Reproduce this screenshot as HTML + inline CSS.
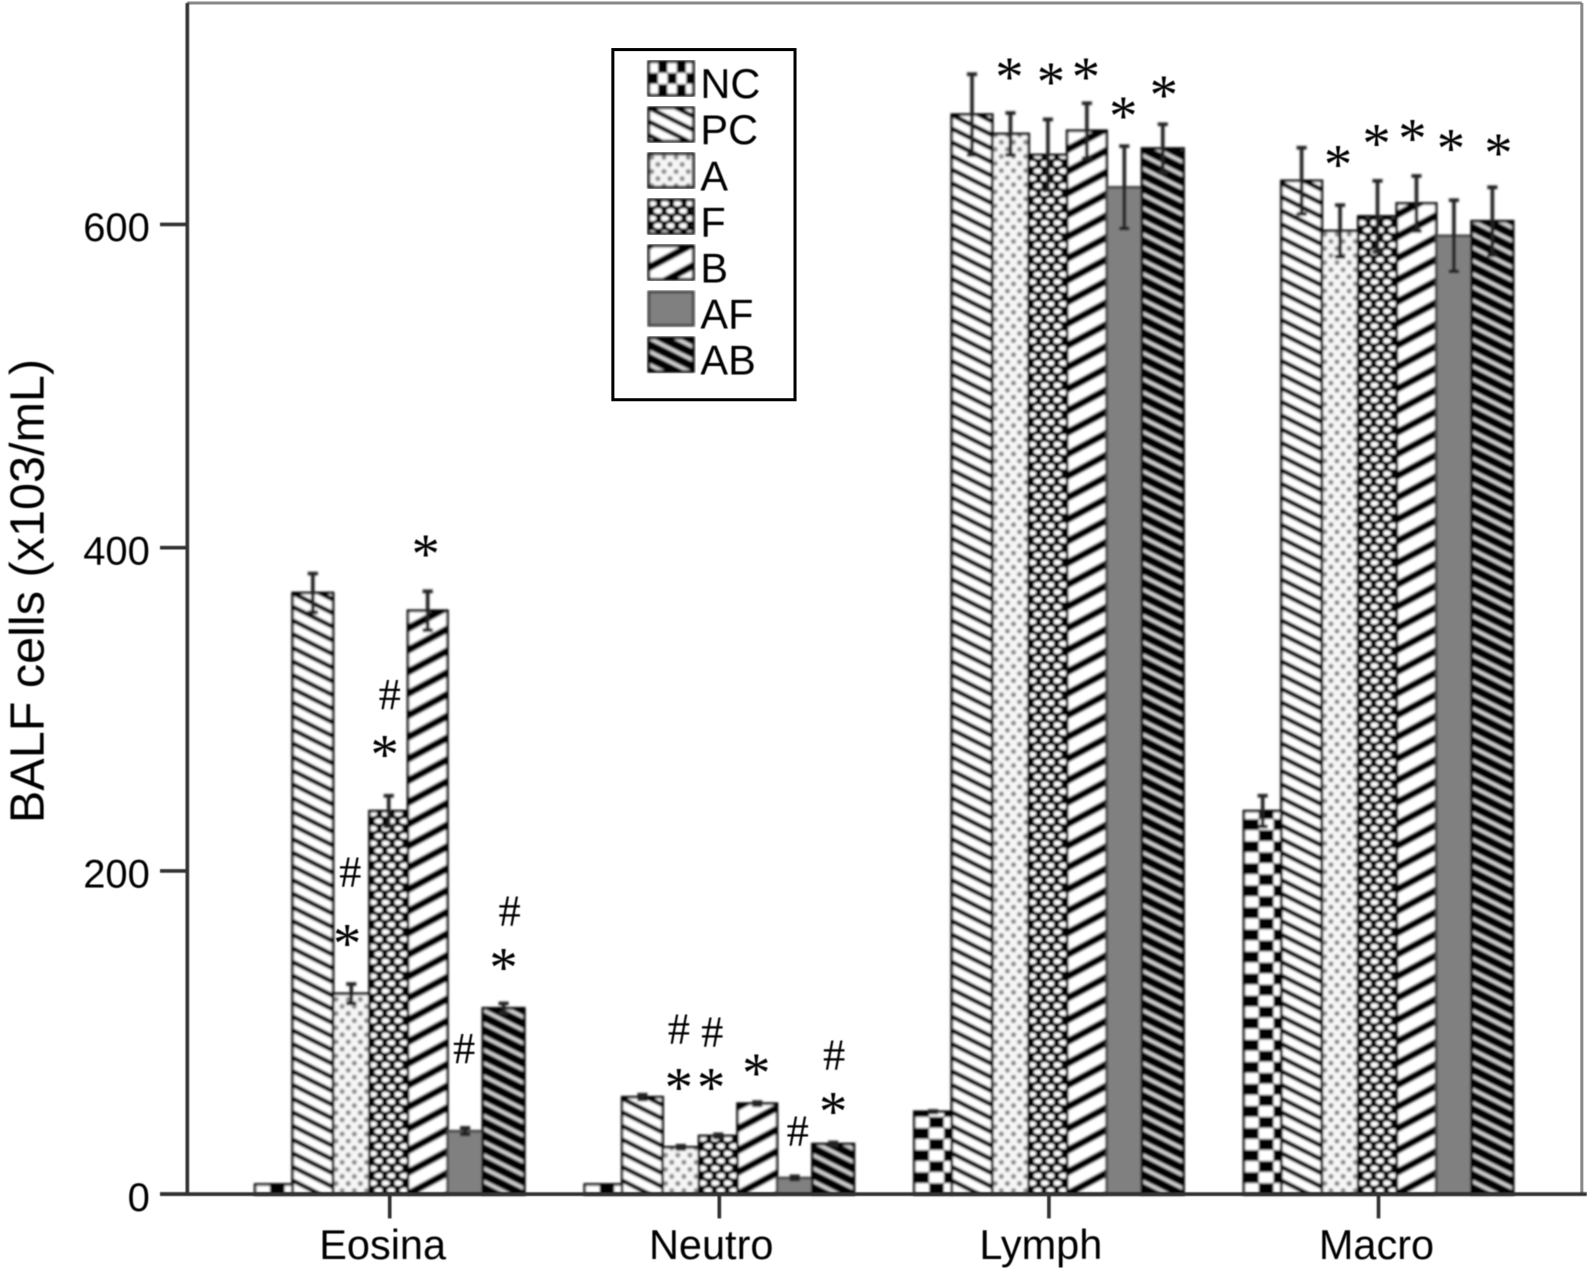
<!DOCTYPE html>
<html>
<head>
<meta charset="utf-8">
<title>BALF cells chart</title>
<style>
html,body{margin:0;padding:0;background:#fff;}
svg{display:block;font-family:"Liberation Sans",sans-serif;}
</style>
</head>
<body>
<svg id="chart" xmlns="http://www.w3.org/2000/svg" width="1587" height="1268" viewBox="0 0 1568 1253">
<defs>
<filter id="soft" x="-5%" y="-5%" width="110%" height="110%"><feGaussianBlur stdDeviation="1"/></filter>
<filter id="softText" x="-5%" y="-5%" width="110%" height="110%"><feGaussianBlur stdDeviation="0.45"/></filter>
<pattern id="p-NC" patternUnits="userSpaceOnUse" width="29.2" height="21.8"><rect width="29.2" height="21.8" fill="#fff"/><rect width="14.6" height="10.9" fill="#000"/><rect x="14.6" y="10.9" width="14.6" height="10.9" fill="#000"/></pattern>
<pattern id="p-NC-legend" patternUnits="userSpaceOnUse" width="18.4" height="22"><rect width="18.4" height="22" fill="#fff"/><rect x="9.2" width="9.2" height="11" fill="#000"/><rect y="11" width="9.2" height="11" fill="#000"/></pattern>
<pattern id="p-PC" patternUnits="userSpaceOnUse" width="27" height="13.5"><rect width="27" height="13.5" fill="#fff"/><path d="M-27 -13.5L54 27M-27 0L27 27M0 -13.5L54 13.5" stroke="#000" stroke-width="4.4" fill="none"/></pattern>
<pattern id="p-A" patternUnits="userSpaceOnUse" width="12" height="14"><rect width="12" height="14" fill="#f6f6f6"/><circle cx="3" cy="3.5" r="2.5" fill="#8c8c8c"/><circle cx="9" cy="10.5" r="2.5" fill="#8c8c8c"/></pattern>
<pattern id="p-F" patternUnits="userSpaceOnUse" width="12.5" height="14.6"><rect width="12.5" height="14.6" fill="#000"/><ellipse cx="3.1" cy="3.65" rx="4.4" ry="2.7" fill="#fff"/><ellipse cx="9.35" cy="10.95" rx="4.4" ry="2.7" fill="#fff"/></pattern>
<pattern id="p-B" patternUnits="userSpaceOnUse" width="40" height="21.5"><rect width="40" height="21.5" fill="#fff"/><path d="M-40 21.5L40 -21.5M-40 43L80 -21.5M0 43L80 0" stroke="#000" stroke-width="7" fill="none"/></pattern>
<pattern id="p-AF" patternUnits="userSpaceOnUse" width="10" height="10"><rect width="10" height="10" fill="#808080"/></pattern>
<pattern id="p-AB" patternUnits="userSpaceOnUse" width="26" height="13"><rect width="26" height="13" fill="#000"/><path d="M-26 -13L52 26M-26 0L26 26M0 -13L52 13" stroke="#d0d0d0" stroke-width="3.6" fill="none"/></pattern>
</defs>
<g id="frame"></g>
<g id="bars" filter="url(#soft)"></g>
<g id="axes" filter="url(#softText)"></g>
<g id="notes" filter="url(#softText)"></g>
<g id="legend"></g>
<text transform="translate(43,584) rotate(-90)" text-anchor="middle" font-size="48" fill="#000" filter="url(#softText)">BALF cells (x103/mL)</text>
</svg>
<script>
// ---- chart data ----
const categories = ['Eosina', 'Neutro', 'Lymph', 'Macro'];
const seriesNames = ['NC', 'PC', 'A', 'F', 'B', 'AF', 'AB'];
const yTickLabels = [0, 200, 400, 600];
const valuesNC = [6, 6, 51, 237];
const valuesPC = [372, 60, 668, 627];
const valuesA = [124, 29, 656, 596];
const valuesF = [237, 36, 643, 605];
const valuesB = [361, 56, 658, 613];
const valuesAF = [39, 10, 623, 593];
const valuesAB = [115, 31, 647, 602];
const errorsNC = [0, 0, 0.5, 9.5];
const errorsPC = [12, 1.5, 25, 20.5];
const errorsA = [6, 1, 13, 16];
const errorsF = [9.5, 1, 22, 22];
const errorsB = [12, 1, 17, 17];
const errorsAF = [2, 1, 25.5, 22];
const errorsAB = [3, 1, 15, 21];
// significance marks: [category index, series index, symbol, value level]
const marks = [
  [0,4,'*',400],[0,3,'#',309],[0,3,'*',276],[0,2,'#',199],[0,2,'*',159],[0,6,'#',175],[0,6,'*',144],[0,5,'#',90],
  [1,2,'#',102],[1,2,'*',70],[1,3,'#',100],[1,3,'*',70],[1,4,'*',79],[1,5,'#',39],[1,6,'#',86],[1,6,'*',55],
  [2,2,'*',695],[2,3,'*',692],[2,4,'*',695],[2,5,'*',671],[2,6,'*',684],
  [3,2,'*',641],[3,3,'*',654],[3,4,'*',657],[3,5,'*',651],[3,6,'*',648]
];

// ---- layout ----
const SVGNS = 'http://www.w3.org/2000/svg';
const seriesValues = [valuesNC, valuesPC, valuesA, valuesF, valuesB, valuesAF, valuesAB];
const seriesErrors = [errorsNC, errorsPC, errorsA, errorsF, errorsB, errorsAF, errorsAB];
const barWidths = [37, 40, 36, 38, 39, 35, 41];
const labelNudge = [-7, -8, -8, -2];
const markNudge = [-2,1,-4,-1,-4,6,0,-1, -2,-2,-6,-7,-1,3,1,0, -1,3,-1,-1,1, -2,-1,-4,-3,6];
function yScale(v) { return 1180 - v * 1.597; }
function groupStart(i) { return 252 + 325.7 * i; }
function barStart(g, s) {
  let x = groupStart(g);
  for (let k = 0; k < s; k++) x += barWidths[k];
  return x;
}
function groupTick(g) { return groupStart(g) + 133; }
function make(tag, attrs, parent, text) {
  const el = document.createElementNS(SVGNS, tag);
  for (const k in attrs) el.setAttribute(k, attrs[k]);
  if (text !== undefined) el.textContent = text;
  parent.appendChild(el);
  return el;
}

// frame
const frame = document.getElementById('frame');
const top1 = make('line', {x1:185,y1:3,x2:1563,y2:3,stroke:'#888','stroke-width':3}, frame);


const right1 = make('line', {x1:1563,y1:3,x2:1563,y2:1180,stroke:'#888','stroke-width':3}, frame);



// bars
const barsG = document.getElementById('bars');
categories.forEach(function (cat, g) {
  seriesNames.forEach(function (name, s) {
    const x = barStart(g, s);
    const w = barWidths[s];
    const v = seriesValues[s][g];
    const yTop = yScale(v);
    const h = yScale(0) - yTop;
    const holder = make('g', {transform: 'translate(' + x + ',' + yScale(0) + ')'}, barsG);
    const bar = make('rect', {x:0, y:-h, width:w, height:h, fill:'url(#p-' + name + ')', stroke: name === 'AF' ? '#444' : '#000', 'stroke-width':2.6}, holder);
    
    
    const e = seriesErrors[s][g];
    if (e > 0) {
      const cx = x + w / 2;
      const err = make('path', {d: 'M' + (cx - 5) + ' ' + yScale(v + e) + 'H' + (cx + 5) + 'M' + cx + ' ' + yScale(v + e) + 'V' + yScale(v - e) + 'M' + (cx - 5) + ' ' + yScale(v - e) + 'H' + (cx + 5), stroke:'#222', 'stroke-width':3.6, fill:'none'}, barsG);
      
      
    }
  });
});

// axes
const axes = document.getElementById('axes');
const yAxis = make('line', {x1:185,y1:3,x2:185,y2:1180,stroke:'#333','stroke-width':3.6}, axes);


const xAxis = make('line', {x1:158,y1:1180,x2:1568,y2:1180,stroke:'#333','stroke-width':3.6}, axes);


yTickLabels.forEach(function (t) {
  const tick = make('line', {x1:158,y1:yScale(t),x2:185,y2:yScale(t),stroke:'#333','stroke-width':3.6}, axes);
  
  
  const lab = make('text', {x:148,y:yScale(t) + 16.5,'text-anchor':'end','font-size':39.5,fill:'#000'}, axes, String(t));
  
  
});
categories.forEach(function (cat, g) {
  const tick = make('line', {x1:groupTick(g),y1:1180,x2:groupTick(g),y2:1204,stroke:'#333','stroke-width':3.6}, axes);
  
  
  const lab = make('text', {x:groupTick(g) + labelNudge[g],y:1244,'text-anchor':'middle','font-size':41,fill:'#000'}, axes, cat);
  
  
});

// significance marks
const notes = document.getElementById('notes');
marks.forEach(function (m, i) {
  const cx = barStart(m[0], m[1]) + barWidths[m[1]] / 2 + markNudge[i];
  const cy = yScale(m[3]);
  const isStar = m[2] === '*';
  const t = make('text', {x:cx, y:cy + (isStar ? 25 : 14), 'text-anchor':'middle', 'font-size': isStar ? 56 : 44, 'font-family':'"Liberation Serif", serif', fill:'#000'}, notes, m[2]);
  
  
});

// legend
const legend = document.getElementById('legend');
const box = make('rect', {x:605.5,y:49,width:180,height:346,fill:'#fff',stroke:'#000','stroke-width':3}, legend);


seriesNames.forEach(function (name, s) {
  const top = 61 + s * 45.5;
  const holder = make('g', {transform: 'translate(641,' + top + ')'}, legend);
  const sw = make('rect', {x:0,y:0,width:44,height:33,fill: name === 'NC' ? 'url(#p-NC-legend)' : 'url(#p-' + name + ')', stroke: name === 'AF' ? '#444' : '#000', 'stroke-width':2.8, filter:'url(#soft)'}, holder);
  
  
  const lab = make('text', {x:692,y:top + 36,'font-size':41,fill:'#000',filter:'url(#softText)'}, legend, name);
  
  
});
</script>
</body>
</html>
